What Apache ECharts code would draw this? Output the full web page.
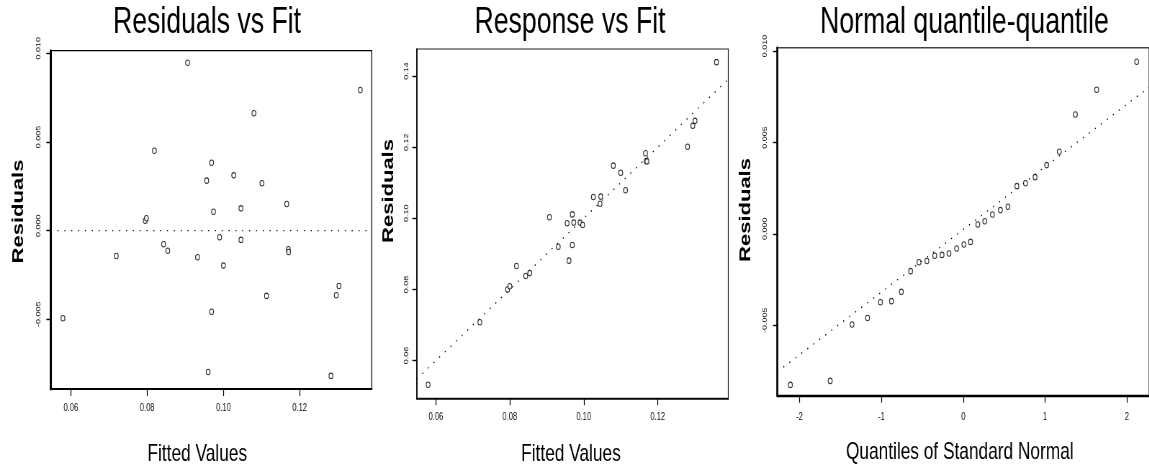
<!DOCTYPE html>
<html><head><meta charset="utf-8">
<script src="https://cdn.jsdelivr.net/npm/echarts@6/dist/echarts.min.js"></script>
<style>
html,body{margin:0;padding:0;overflow:hidden;background:#fff;width:1149px;height:467px}
#wrap{width:1149px;height:467px;overflow:hidden;position:relative}
#c{width:1596px;height:467px;transform:scaleX(0.72);transform-origin:0 0;position:absolute;left:0;top:0}
</style></head><body><div id="wrap"><div id="c"></div></div>
<script>
// ---- Data ----
const residFitted = [0.0906,0.1359,0.1080,0.0819,0.0969,0.0956,0.1027,0.1101,0.1166,0.1046,0.0974,0.0795,0.0798,0.0990,0.1046,0.0843,0.0854,0.1170,0.1171,0.0719,0.0932,0.1000,0.1303,0.1296,0.1113,0.0969,0.0579,0.0960,0.1282];
const residValues = [0.00947,0.00793,0.00662,0.00451,0.00383,0.00282,0.00312,0.00267,0.00150,0.00126,0.00107,0.00056,0.00070,-0.00037,-0.00052,-0.00077,-0.00113,-0.00105,-0.00120,-0.00143,-0.00150,-0.00197,-0.00312,-0.00364,-0.00368,-0.00457,-0.00494,-0.00797,-0.00819];

const respFitted = [0.1359,0.1301,0.1295,0.1281,0.1167,0.1169,0.1171,0.1080,0.1100,0.1113,0.1026,0.1046,0.1044,0.0907,0.0969,0.0955,0.0973,0.0990,0.0997,0.0931,0.0969,0.0960,0.0818,0.0843,0.0854,0.0794,0.0800,0.0719,0.0579];
const respValues = [0.1439,0.1274,0.1260,0.1201,0.1183,0.1161,0.1160,0.1148,0.1128,0.1079,0.1060,0.1061,0.1041,0.1003,0.1011,0.0986,0.0988,0.0988,0.0981,0.0920,0.0925,0.0881,0.0866,0.0838,0.0846,0.0800,0.0809,0.0708,0.0532];

const qqTheoretical = [2.120,1.631,1.371,1.174,1.020,0.878,0.761,0.656,0.546,0.454,0.357,0.263,0.178,0.090,0.008,-0.080,-0.174,-0.259,-0.348,-0.444,-0.541,-0.643,-0.756,-0.877,-1.011,-1.169,-1.359,-1.626,-2.112];
const qqResiduals = [0.00941,0.00788,0.00653,0.00449,0.00376,0.00310,0.00277,0.00261,0.00148,0.00130,0.00106,0.00069,0.00051,-0.00044,-0.00058,-0.00080,-0.00107,-0.00115,-0.00120,-0.00148,-0.00155,-0.00204,-0.00317,-0.00368,-0.00374,-0.00460,-0.00496,-0.00804,-0.00826];

// reference lines (endpoints)
const zeroLineX = [0.0547, 0.1389];
const zeroLineY = [0, 0];
const identityLine = [0.0548, 0.1391];
const qqLineX = [-2.272, 2.272];
const qqLineY = [-0.00754, 0.00802];

// tick values
const residXTicks = [0.06, 0.08, 0.10, 0.12];
const residYTicks = [-0.005, 0, 0.005, 0.010];
const respXTicks = [0.06, 0.08, 0.10, 0.12];
const respYTicks = [0.06, 0.08, 0.10, 0.12, 0.14];
const qqXTicks = [-2, -1, 0, 1, 2];
const qqYTicks = [-0.005, 0, 0.005, 0.010];

const titles = ['Residuals vs Fit', 'Response vs Fit', 'Normal quantile-quantile'];
const xTitles = ['Fitted Values', 'Fitted Values', 'Quantiles of Standard Normal'];
const yTitle = 'Residuals';

// ---- Chart ----
const FF = '"Liberation Sans", Arial, Helvetica, sans-serif';
const zip = (a, b) => a.map((v, i) => [v, b[i]]);

function xAx(gi, min, max, ticks, fmt, margin, lw) {
  return {
    type: 'value', gridIndex: gi, min: min, max: max,
    axisLine: { show: true, onZero: false, lineStyle: { color: '#000', width: lw } },
    axisTick: { show: true, length: 7, customValues: ticks, lineStyle: { color: '#000', width: 1.2 } },
    axisLabel: { customValues: ticks, formatter: fmt, fontSize: 10.5, margin: margin, color: '#111', fontFamily: FF },
    splitLine: { show: false }
  };
}
function yAx(gi, min, max, ticks, fmt, margin, lw) {
  return {
    type: 'value', gridIndex: gi, min: min, max: max,
    axisLine: { show: true, onZero: false, lineStyle: { color: '#000', width: lw } },
    axisTick: { show: true, length: 6, customValues: ticks, lineStyle: { color: '#000', width: 1.4 } },
    axisLabel: { customValues: ticks, formatter: fmt, fontSize: 9, rotate: 90, margin: margin, color: '#111', fontFamily: FF, padding: [0, 0, 0, 10] },
    splitLine: { show: false }
  };
}
const scatterStyle = { color: '#fff', borderColor: '#000', borderWidth: 1.1 };
function scat(i, data) {
  return { type: 'scatter', xAxisIndex: i, yAxisIndex: i, data: data, symbol: 'circle', symbolSize: 5.5, itemStyle: scatterStyle, silent: true };
}
function dline(i, data) {
  return { type: 'line', xAxisIndex: i, yAxisIndex: i, data: data, symbol: 'none', silent: true,
    lineStyle: { type: [1.5, 8], width: 1.3, color: '#000' }, z: 1 };
}

const f3 = v => (Math.abs(v) < 1e-12 ? 0 : v).toFixed(3);
const f2 = v => v.toFixed(2);
const f0 = v => String(Math.round(v));

function txt(x, y, text, font, rot) {
  return { type: 'text', x: x, y: y, rotation: rot || 0, silent: true,
    style: { text: text, font: font + ' ' + FF, fill: '#000', align: 'center', verticalAlign: 'middle', textAlign: 'center', textVerticalAlign: 'middle' } };
}

const chart = echarts.init(document.getElementById('c'), null, { renderer: 'canvas', width: 1596, height: 467 });
chart.setOption({
  animation: false,
  backgroundColor: '#fff',
  grid: [
    { left: 70.4, top: 50.7, width: 445.9, height: 338.3, show: true, borderColor: '#000', borderWidth: 1.2 },
    { left: 578.7, top: 49, width: 432.8, height: 349.3, show: true, borderColor: '#222', borderWidth: 1.2 },
    { left: 1079.6, top: 47.7, width: 520, height: 348, show: true, borderColor: '#444', borderWidth: 1.6 }
  ],
  xAxis: [
    xAx(0, 0.0547, 0.1389, residXTicks, f2, 14, 2),
    xAx(1, 0.0548, 0.1391, respXTicks, f2, 13, 1.6),
    xAx(2, -2.272, 2.272, qqXTicks, f0, 16, 2.4)
  ],
  yAxis: [
    yAx(0, -0.00893, 0.01015, residYTicks, f3, 12, 3),
    yAx(1, 0.0494, 0.1476, respYTicks, f2, 10, 1.6),
    yAx(2, -0.00885, 0.01018, qqYTicks, f3, 13, 2.6)
  ],
  graphic: [
    txt(287.5, 23, titles[0], '37px'),
    txt(791.7, 23, titles[1], '37px'),
    txt(1339.6, 23, titles[2], '37px'),
    txt(274, 454, xTitles[0], '24px'),
    txt(793, 454, xTitles[1], '24px'),
    txt(1333, 452.5, xTitles[2], '24px'),
    txt(26.4, 211.5, yTitle, 'bold 22px', Math.PI / 2),
    txt(540.3, 191, yTitle, 'bold 22px', Math.PI / 2),
    txt(1035.9, 210, yTitle, 'bold 22px', Math.PI / 2)
  ],
  series: [
    dline(0, zip(zeroLineX, zeroLineY)),
    scat(0, zip(residFitted, residValues)),
    dline(1, zip(identityLine, identityLine)),
    scat(1, zip(respFitted, respValues)),
    dline(2, zip(qqLineX, qqLineY)),
    scat(2, zip(qqTheoretical, qqResiduals))
  ]
});
</script></body></html>
